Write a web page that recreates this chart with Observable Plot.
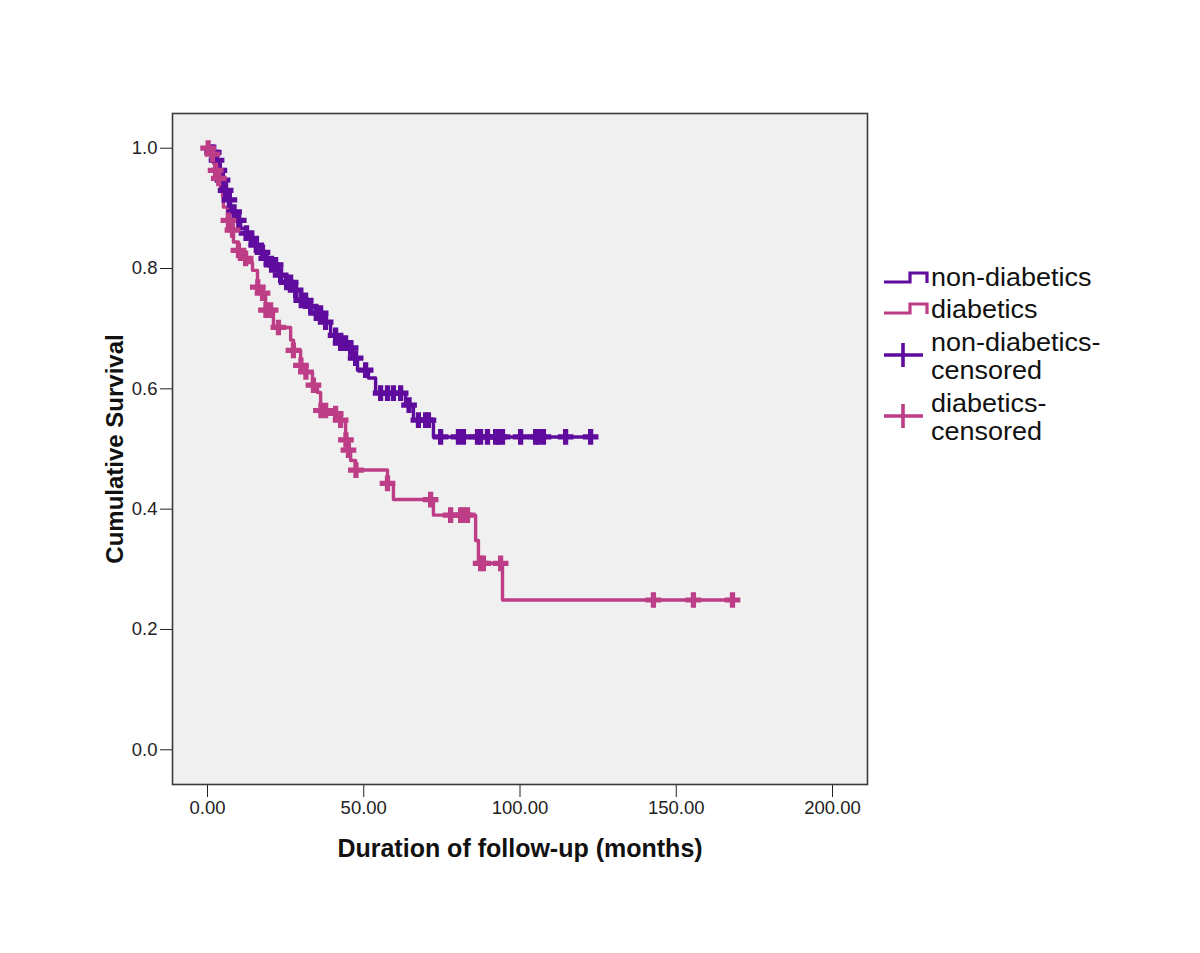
<!DOCTYPE html>
<html>
<head>
<meta charset="utf-8">
<script src="https://cdn.jsdelivr.net/npm/d3@7"></script>
<script src="https://cdn.jsdelivr.net/npm/@observablehq/plot@0.6"></script>
<style>
  html, body { margin: 0; padding: 0; background: #fff; }
  #wrap { position: relative; width: 1200px; height: 953px; }
  #legend { position: absolute; left: 0; top: 0; pointer-events: none; }
</style>
</head>
<body>
<div id="wrap"></div>
<script>
// ---- Data ----
const xTicks = [0, 50, 100, 150, 200];
const yTicks = [0, 0.2, 0.4, 0.6, 0.8, 1.0];

// non-diabetics: Kaplan-Meier event steps
const ndTimes = [0, 1, 2.6, 3.5, 4.2, 5.1, 6.1, 7.4, 9.0, 10.6, 12.2, 13.8, 15.4, 17.0, 18.6, 20.2, 22.7, 25.0, 27.2, 29.8, 32.0, 34.6, 37.1, 39.4, 41.9, 44.8, 46.4, 48.0, 51.5, 53.8, 63.4, 65.9, 72.3];
const ndSurv  = [1.0, 0.993, 0.980, 0.963, 0.947, 0.930, 0.914, 0.894, 0.880, 0.867, 0.859, 0.850, 0.839, 0.827, 0.817, 0.806, 0.789, 0.777, 0.764, 0.747, 0.737, 0.726, 0.711, 0.689, 0.676, 0.668, 0.651, 0.631, 0.618, 0.593, 0.573, 0.548, 0.520];
const ndEnd = 122.6;
const ndCensor = [1.5, 2.0, 2.9, 3.8, 4.8, 5.8, 7.0, 8.5, 10.0, 12.5, 14.0, 15.6, 17.6, 18.8, 20.5, 21.8, 23.4, 25.3, 26.6, 28.2, 30.0, 31.4, 33.0, 34.8, 36.2, 37.8, 41.0, 42.6, 44.2, 45.8, 47.4, 50.6, 55.4, 57.6, 59.5, 61.8, 64.5, 67.5, 69.8, 70.7, 74.6, 80.3, 81.9, 86.4, 87.4, 89.6, 92.2, 93.1, 94.4, 100.2, 105.0, 105.9, 107.5, 114.6, 122.6];

// diabetics: Kaplan-Meier event steps
const dTimes = [0, 1.0, 1.9, 2.6, 3.5, 4.2, 4.8, 5.1, 6.4, 7.4, 8.3, 9.9, 11.2, 12.8, 14.4, 16.0, 17.6, 18.6, 21.1, 26.6, 27.5, 29.8, 31.4, 33.6, 35.2, 36.2, 40.3, 42.6, 44.2, 44.8, 45.8, 47.4, 57.6, 59.5, 72.3, 85.8, 86.7, 94.4];
const dSurv  = [1.0, 0.990, 0.975, 0.963, 0.950, 0.933, 0.920, 0.902, 0.880, 0.864, 0.844, 0.830, 0.817, 0.810, 0.797, 0.769, 0.759, 0.731, 0.702, 0.681, 0.664, 0.639, 0.628, 0.606, 0.594, 0.564, 0.559, 0.548, 0.515, 0.498, 0.481, 0.465, 0.443, 0.416, 0.390, 0.348, 0.310, 0.249];
const dEnd = 168.5;
const dCensor = [0.2, 1.6, 2.6, 3.6, 6.7, 8.0, 9.9, 12.2, 16.1, 17.6, 18.7, 20.2, 22.7, 27.5, 29.9, 31.5, 33.9, 36.3, 37.8, 41.0, 42.6, 44.3, 45.1, 47.5, 57.6, 71.4, 77.8, 81.0, 81.9, 83.2, 87.4, 88.3, 93.8, 142.7, 155.5, 168.0];

const groups = ["non-diabetics", "diabetics"];
const colors = ["#5e0b9e", "#bd3d86"];

// ---- Build tables ----
function steps(times, surv, end, group) {
  const rows = times.map((t, i) => ({time: t, surv: surv[i], group}));
  rows.push({time: end, surv: surv[surv.length - 1], group});
  return rows;
}
function survAt(times, surv, t) {
  let s = surv[0];
  for (let i = 0; i < times.length; i++) if (times[i] <= t) s = surv[i];
  return s;
}
const lineData = [
  ...steps(ndTimes, ndSurv, ndEnd, groups[0]),
  ...steps(dTimes, dSurv, dEnd, groups[1])
];
const censorData = [
  ...ndCensor.map(t => ({time: t, surv: survAt(ndTimes, ndSurv, t), group: groups[0]})),
  ...dCensor.map(t => ({time: t, surv: survAt(dTimes, dSurv, t), group: groups[1]}))
];

const chart = Plot.plot({
  width: 1200,
  height: 953,
  marginLeft: 172,
  marginRight: 333,
  marginTop: 113,
  marginBottom: 169,
  style: {fontFamily: "'Liberation Sans', Arial, sans-serif", fontSize: "18.5px", color: "#222", background: "#fff"},
  x: {domain: [-11.2, 211.2], ticks: xTicks, tickFormat: d3.format(".2f"), tickSize: 13, tickPadding: 3, label: null},
  y: {domain: [-0.0577, 1.0577], ticks: yTicks, tickFormat: d3.format(".1f"), tickSize: 12, tickPadding: 3, label: null},
  color: {domain: groups, range: colors},
  marks: [
    Plot.frame({fill: "#f0f0f0", stroke: "#3a3a3a", strokeWidth: 1.6}),
    Plot.line(lineData, {x: "time", y: "surv", z: "group", stroke: "group", curve: "step-after", strokeWidth: 3.4}),
    Plot.dot(censorData, {x: "time", y: "surv", fill: "group", symbol: "cross", r: 6.6, stroke: null}),
    Plot.text(["Duration of follow-up (months)"], {frameAnchor: "bottom", dy: 72, fontSize: 25, fontWeight: "bold", fill: "#111"}),
    Plot.text(["Cumulative Survival"], {frameAnchor: "left", textAnchor: "middle", dx: -57, rotate: -90, fontSize: 24, fontWeight: "bold", fill: "#111"})
  ]
});

const wrap = document.getElementById("wrap");
wrap.appendChild(chart);

// ---- Legend (overlay) ----
const ns = "http://www.w3.org/2000/svg";
const leg = document.createElementNS(ns, "svg");
leg.setAttribute("id", "legend");
leg.setAttribute("width", 1200);
leg.setAttribute("height", 953);
leg.style.fontFamily = "'Liberation Sans', Arial, sans-serif";
const legendItems = [
  {type: "step", color: colors[0], lines: ["non-diabetics"], cy: 278},
  {type: "step", color: colors[1], lines: ["diabetics"], cy: 309},
  {type: "plus", color: colors[0], lines: ["non-diabetics-", "censored"], cy: 355},
  {type: "plus", color: colors[1], lines: ["diabetics-", "censored"], cy: 416}
];
const baselines = [[286], [318], [351, 379], [412, 440]];
legendItems.forEach((it, k) => {
  if (it.type === "step") {
    const p = document.createElementNS(ns, "path");
    const y0 = it.cy + 4, y1 = it.cy - 5;
    p.setAttribute("d", `M884,${y0}H910V${y1}H927V${y0+1}`);
    p.setAttribute("fill", "none");
    p.setAttribute("stroke", it.color);
    p.setAttribute("stroke-width", 3.2);
    leg.appendChild(p);
  } else {
    const p = document.createElementNS(ns, "path");
    p.setAttribute("d", `M884,${it.cy}H923M903,${it.cy-12}V${it.cy+12}`);
    p.setAttribute("fill", "none");
    p.setAttribute("stroke", it.color);
    p.setAttribute("stroke-width", 3.6);
    leg.appendChild(p);
  }
  it.lines.forEach((s, j) => {
    const t = document.createElementNS(ns, "text");
    const y = baselines[k][j];
    t.setAttribute("x", 0);
    t.setAttribute("y", 0);
    t.setAttribute("transform", `translate(931,${y}) scale(1.08,1)`);
    t.setAttribute("font-size", 25);
    t.setAttribute("fill", "#111");
    t.textContent = s;
    leg.appendChild(t);
  });
});
wrap.appendChild(leg);
</script>
</body>
</html>
